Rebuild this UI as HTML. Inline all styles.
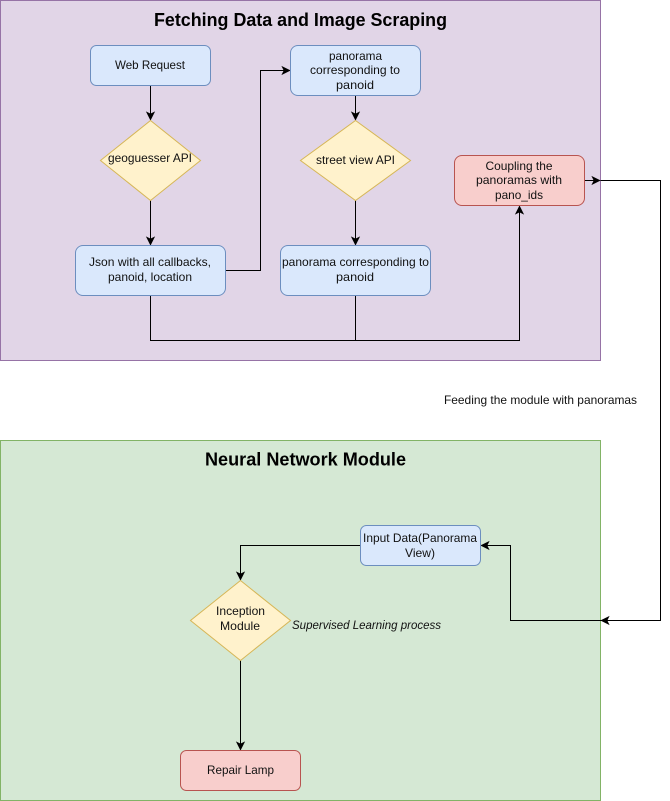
<!DOCTYPE html>
<html><head><meta charset="utf-8"><style>
html,body{margin:0;padding:0;background:#fff}
svg{display:block}
text{font-family:"Liberation Sans",sans-serif;font-size:12px;fill:#111;text-anchor:middle}
.t{font-size:18px;font-weight:bold;fill:#000}
.l{fill:none;stroke:#000;stroke-width:1}
.a{fill:#000;stroke:#000;stroke-width:1}
.b{fill:#dae8fc;stroke:#6c8ebf}
.y{fill:#fff2cc;stroke:#d6b656}
.r{fill:#f8cecc;stroke:#b85450}
</style></head><body>
<svg width="670" height="801" viewBox="0 0 670 801" xmlns="http://www.w3.org/2000/svg">
<rect x="0.5" y="0.5" width="600" height="360" fill="#e1d5e7" stroke="#9673a6"/>
<rect x="0.5" y="440.5" width="600" height="360" fill="#d5e8d4" stroke="#82b366"/>
<text class="t" x="300.5" y="26" textLength="293" lengthAdjust="spacingAndGlyphs">Fetching Data and Image Scraping</text>
<text class="t" x="305.5" y="465.5" textLength="201" lengthAdjust="spacingAndGlyphs">Neural Network Module</text>

<path class="l" d="M150.5 85.5V114"/><path class="a" d="M150.5 119.5L147 112.5L150.5 114.25L154 112.5Z"/>
<path class="l" d="M150.5 200.5V239"/><path class="a" d="M150.5 244.5L147 237.5L150.5 239.25L154 237.5Z"/>
<path class="l" d="M225.5 270.5H260.5V70.5H284"/><path class="a" d="M289.5 70.5L282.5 67L284.25 70.5L282.5 74Z"/>
<path class="l" d="M355.5 95.5V114"/><path class="a" d="M355.5 119.5L352 112.5L355.5 114.25L359 112.5Z"/>
<path class="l" d="M355.5 200.5V239"/><path class="a" d="M355.5 244.5L352 237.5L355.5 239.25L359 237.5Z"/>
<path class="l" d="M150.5 295.5V340.5H519.5V212"/><path class="a" d="M519.5 206.5L516 213.5L519.5 211.75L523 213.5Z"/>
<path class="l" d="M355.5 295.5V340.5"/>
<path class="l" d="M584.5 180.5H594"/><path class="a" d="M599.5 180.5L592.5 177L594.25 180.5L592.5 184Z"/>
<path class="l" d="M600.5 180.5H660.5V620.5H607"/><path class="a" d="M601.5 620.5L608.5 617L606.75 620.5L608.5 624Z"/>
<path class="l" d="M601.5 620.5H510.5V545.5H487"/><path class="a" d="M481.5 545.5L488.5 542L486.75 545.5L488.5 549Z"/>
<path class="l" d="M360.5 545.5H240.5V574"/><path class="a" d="M240.5 579.5L237 572.5L240.5 574.25L244 572.5Z"/>
<path class="l" d="M240.5 660.5V744"/><path class="a" d="M240.5 749.5L237 742.5L240.5 744.25L244 742.5Z"/>

<rect class="b" x="90.5" y="45.5" width="120" height="40" rx="6"/>
<path class="y" d="M150.5 120.5L200.5 160.5L150.5 200.5L100.5 160.5Z"/>
<rect class="b" x="75.5" y="245.5" width="150" height="50" rx="7.5"/>
<rect class="b" x="290.5" y="45.5" width="130" height="50" rx="7.5"/>
<path class="y" d="M355.5 120.5L410.5 160.5L355.5 200.5L300.5 160.5Z"/>
<rect class="b" x="280.5" y="245.5" width="150" height="50" rx="7.5"/>
<rect class="r" x="454.5" y="155.5" width="130" height="50" rx="7.5"/>
<rect class="b" x="360.5" y="525.5" width="120" height="40" rx="6"/>
<path class="y" d="M240.5 580.5L290.5 620.5L240.5 660.5L190.5 620.5Z"/>
<rect class="r" x="180.5" y="750.5" width="120" height="40" rx="6"/>

<text x="150" y="69" textLength="70" lengthAdjust="spacingAndGlyphs">Web Request</text>
<text x="150" y="162" textLength="84" lengthAdjust="spacingAndGlyphs">geoguesser API</text>
<text x="150" y="266" textLength="122" lengthAdjust="spacingAndGlyphs">Json with all callbacks,</text>
<text x="150" y="281" textLength="84" lengthAdjust="spacingAndGlyphs">panoid, location</text>
<text x="355.5" y="60" textLength="53" lengthAdjust="spacingAndGlyphs">panorama</text>
<text x="355" y="74" textLength="90" lengthAdjust="spacingAndGlyphs">corresponding to</text>
<text x="355" y="89" textLength="38" lengthAdjust="spacingAndGlyphs">panoid</text>
<text x="355.5" y="164" textLength="79" lengthAdjust="spacingAndGlyphs">street view API</text>
<text x="355.5" y="266" textLength="147" lengthAdjust="spacingAndGlyphs">panorama corresponding to</text>
<text x="355" y="281" textLength="38" lengthAdjust="spacingAndGlyphs">panoid</text>
<text x="519" y="170" textLength="67" lengthAdjust="spacingAndGlyphs">Coupling the</text>
<text x="519" y="184" textLength="86" lengthAdjust="spacingAndGlyphs">panoramas with</text>
<text x="519" y="199" textLength="48" lengthAdjust="spacingAndGlyphs">pano_ids</text>
<text x="540.5" y="404" textLength="193" lengthAdjust="spacingAndGlyphs">Feeding the module with panoramas</text>
<text x="420" y="542" textLength="114" lengthAdjust="spacingAndGlyphs">Input Data(Panorama</text>
<text x="420" y="557" textLength="30" lengthAdjust="spacingAndGlyphs">View)</text>
<text x="240.5" y="615" textLength="49" lengthAdjust="spacingAndGlyphs">Inception</text>
<text x="240" y="630" textLength="40" lengthAdjust="spacingAndGlyphs">Module</text>
<text x="366.5" y="629" font-style="italic" textLength="149" lengthAdjust="spacingAndGlyphs">Supervised Learning process</text>
<text x="240.5" y="774" textLength="67" lengthAdjust="spacingAndGlyphs">Repair Lamp</text>
</svg>
</body></html>
